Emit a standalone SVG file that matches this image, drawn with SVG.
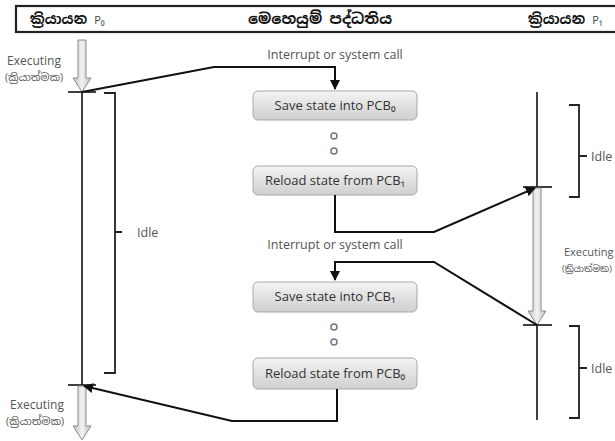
<svg xmlns="http://www.w3.org/2000/svg" width="615" height="441" viewBox="0 0 615 441">
<defs>
<linearGradient id="boxg" x1="0" y1="0" x2="0" y2="1">
<stop offset="0" stop-color="#f4f4f4"/>
<stop offset="1" stop-color="#cfcfcf"/>
</linearGradient>
<linearGradient id="arrg" x1="0" y1="0" x2="1" y2="0">
<stop offset="0" stop-color="#bdbdbd"/>
<stop offset="0.5" stop-color="#f2f2f2"/>
<stop offset="1" stop-color="#bdbdbd"/>
</linearGradient>
<marker id="ah" viewBox="0 0 10 10" refX="9" refY="5" markerWidth="5" markerHeight="5" orient="auto">
<path d="M0,0 L10,5 L0,10 z" fill="#111"/>
</marker>
<style>
.t{font-family:"Open Sans","Noto Sans","Noto Sans Sinhala","DejaVu Sans",sans-serif;fill:#555;}
.box{fill:url(#boxg);stroke:#a8a8a8;stroke-width:1;}
.bt{font-family:"Open Sans","Noto Sans",sans-serif;font-size:13px;fill:#333;text-anchor:middle;}
.ln{fill:none;stroke:#111;stroke-width:2;}
.tl{stroke:#111;stroke-width:1.6;fill:none;}
.br{fill:none;stroke:#222;stroke-width:1.8;}
.blk{fill:url(#arrg);stroke:#8c8c8c;stroke-width:1;}
.dot{fill:none;stroke:#6a7a8a;stroke-width:1.5;}
.hd{font-family:"Noto Sans Sinhala","Noto Sans","DejaVu Sans",sans-serif;font-weight:bold;fill:#111;}
.sub{font-family:"Open Sans","Noto Sans",sans-serif;font-size:11px;fill:#444;font-weight:normal;}
</style>
</defs>
<rect width="615" height="441" fill="#fff"/>

<g id="header">
<rect x="16" y="6" width="610" height="26" fill="#fff" stroke="#222" stroke-width="2.2"/>
<text class="hd" x="30" y="24" font-size="14">ක්‍රියායන <tspan class="sub">P₀</tspan></text>
<text class="hd" x="320" y="24" font-size="15" text-anchor="middle">මෙහෙයුම් පද්ධතිය</text>
<text class="hd" x="528" y="24" font-size="14">ක්‍රියායන <tspan class="sub">P₁</tspan></text>
</g>

<g id="process-p0">
<path class="blk" d="M78,40 H86 V78 H91 L82,92 L73,78 H78 Z"/>
<line class="tl" x1="68" y1="92" x2="96" y2="92"/>
<line class="tl" x1="82" y1="92" x2="82" y2="385"/>
<line class="tl" x1="68" y1="385" x2="96" y2="385"/>
<path class="blk" d="M78,386 H86 V426 H91 L82,440 L73,426 H78 Z"/>
<path class="br" d="M104,93 H115 V232 M115,232 H122 M115,232 V373 H104"/>
<text class="t" x="137" y="237" font-size="12.5">Idle</text>
<text class="t" x="7" y="65" font-size="12">Executing</text>
<text class="t" x="5" y="81" font-size="10.5">(ක්‍රියාත්මක)</text>
<text class="t" x="10" y="409" font-size="12">Executing</text>
<text class="t" x="6" y="425" font-size="10.5">(ක්‍රියාත්මක)</text>
</g>

<g id="process-p1">
<line class="tl" x1="537" y1="92" x2="537" y2="187"/>
<line class="tl" x1="523" y1="187" x2="552" y2="187"/>
<path class="blk" d="M533,188 H541 V311 H546 L537,325 L528,311 H533 Z"/>
<line class="tl" x1="523" y1="325" x2="552" y2="325"/>
<line class="tl" x1="537" y1="325" x2="537" y2="420"/>
<path class="br" d="M569,105 H579 V156 M579,156 H587 M579,156 V197 H569"/>
<text class="t" x="591" y="161" font-size="12.5">Idle</text>
<path class="br" d="M569,326 H579 V368 M579,368 H587 M579,368 V418 H569"/>
<text class="t" x="591" y="373" font-size="12.5">Idle</text>
<text class="t" x="564" y="256" font-size="11">Executing</text>
<text class="t" x="562" y="272" font-size="9">(ක්‍රියාත්මක)</text>
</g>

<g id="save-pcb0">
<rect class="box" x="253" y="91" width="164" height="29" rx="5"/>
<text class="bt" x="335" y="110">Save state into PCB₀</text>
</g>
<g id="dots1">
<circle class="dot" cx="334" cy="136" r="3"/>
<circle class="dot" cx="334" cy="151" r="3"/>
</g>
<g id="reload-pcb1">
<rect class="box" x="253" y="166" width="164" height="29" rx="5"/>
<text class="bt" x="335" y="185">Reload state from PCB₁</text>
</g>
<g id="save-pcb1">
<rect class="box" x="253" y="282" width="164" height="30" rx="5"/>
<text class="bt" x="335" y="301">Save state into PCB₁</text>
</g>
<g id="dots2">
<circle class="dot" cx="334" cy="327" r="3"/>
<circle class="dot" cx="334" cy="342" r="3"/>
</g>
<g id="reload-pcb0">
<rect class="box" x="253" y="358" width="164" height="31" rx="5"/>
<text class="bt" x="335" y="378">Reload state from PCB₀</text>
</g>

<g id="labels">
<text class="t" x="335" y="59" font-size="12.5" text-anchor="middle">Interrupt or system call</text>
<text class="t" x="335" y="249" font-size="12.5" text-anchor="middle">Interrupt or system call</text>
</g>

<g id="connectors">
<path class="ln" d="M82,92 L214,67 H335 V89" marker-end="url(#ah)"/>
<path class="ln" d="M335,195 V232 H434 L535,188" marker-end="url(#ah)"/>
<path class="ln" d="M537,325 L434,262 H335 V280" marker-end="url(#ah)"/>
<path class="ln" d="M337,389 V421 H232 L84,386" marker-end="url(#ah)"/>
</g>
</svg>
